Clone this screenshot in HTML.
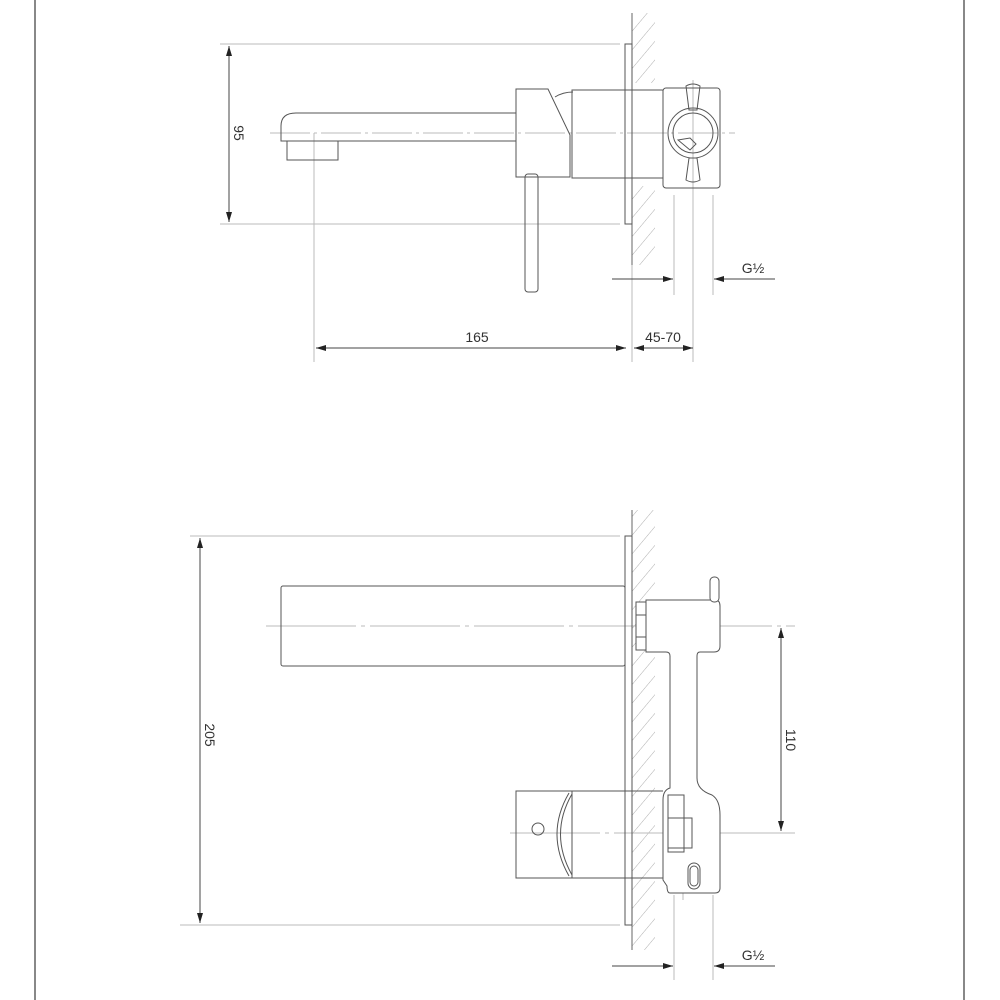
<!DOCTYPE html>
<html><head><meta charset="utf-8"><style>
html,body{margin:0;padding:0;background:#fff;}
svg{display:block;}
text{font-family:"Liberation Sans",sans-serif;font-size:14px;fill:#333;}
</style></head><body>
<svg width="1000" height="1000" viewBox="0 0 1000 1000" xmlns="http://www.w3.org/2000/svg">
<defs>
<marker id="a" viewBox="0 0 10 6" refX="10" refY="3" markerWidth="10" markerHeight="6" orient="auto-start-reverse" markerUnits="userSpaceOnUse"><path d="M0,0L10,3L0,6z" fill="#222"/></marker>
<pattern id="h" width="12" height="12" patternUnits="userSpaceOnUse" patternTransform="rotate(40)"><line x1="0" y1="0" x2="0" y2="12" stroke="#999" stroke-width="0.8"/></pattern>
</defs>
<rect width="1000" height="1000" fill="#fff"/>
<line x1="35" y1="0" x2="35" y2="1000" stroke="#888" stroke-width="2"/>
<line x1="964" y1="0" x2="964" y2="1000" stroke="#888" stroke-width="2"/>

<!-- TOP VIEW -->
<g fill="none" stroke-width="1">
<rect x="632" y="13" width="23" height="70" fill="url(#h)" stroke="none"/>
<rect x="632" y="186" width="23" height="79" fill="url(#h)" stroke="none"/>
<line x1="632" y1="13" x2="632" y2="265" stroke="#666"/>
<g stroke="#bbb">
<line x1="220" y1="44" x2="620" y2="44"/>
<line x1="220" y1="224" x2="620" y2="224"/>
<line x1="314" y1="133" x2="314" y2="362"/>
<line x1="632" y1="265" x2="632" y2="362"/>
<line x1="693" y1="190" x2="693" y2="362"/>
<line x1="674" y1="195" x2="674" y2="295"/>
<line x1="713" y1="195" x2="713" y2="295"/>
<line x1="270" y1="133" x2="735" y2="133" stroke-dasharray="40 4 3 4"/>
<line x1="693" y1="80" x2="693" y2="190"/>
</g>
<g stroke="#444">
<line x1="229" y1="46" x2="229" y2="222" marker-start="url(#a)" marker-end="url(#a)"/>
<line x1="316" y1="348" x2="626" y2="348" marker-start="url(#a)" marker-end="url(#a)"/>
<line x1="634" y1="348" x2="693" y2="348" marker-start="url(#a)" marker-end="url(#a)"/>
<line x1="612" y1="279" x2="673" y2="279" marker-end="url(#a)"/>
<line x1="775" y1="279" x2="714" y2="279" marker-end="url(#a)"/>
</g>
<g stroke="#555">
<rect x="625" y="44" width="7" height="180"/>
<path d="M516,113 H296 Q281,113 281,126 V141 H516"/>
<rect x="287" y="141" width="51" height="19"/>
<path d="M516,89 H548 L570,135 V177 H516 Z"/>
<path d="M555,97 Q563,92 573,92"/>
<rect x="572" y="90" width="60" height="88"/>
<rect x="525" y="174" width="13" height="118" rx="3"/>
<rect x="632" y="90" width="31" height="88"/>
<rect x="663" y="88" width="57" height="100" rx="3"/>
<path d="M686,86 Q693,82 700,86 L697,110 H689 Z"/>
<path d="M689,158 H697 L700,180 Q693,184 686,180 Z"/>
<circle cx="693" cy="133" r="25"/>
<circle cx="693" cy="133" r="20"/>
<path d="M678,140 L690,138 L696,144 L690,150 Z"/>
</g>
</g>
<text x="477" y="342" text-anchor="middle">165</text>
<text x="663" y="342" text-anchor="middle">45-70</text>
<text x="753" y="273" text-anchor="middle">G½</text>
<text transform="translate(234,133) rotate(90)" text-anchor="middle">95</text>

<!-- BOTTOM VIEW -->
<g fill="none" stroke-width="1">
<rect x="632" y="510" width="23" height="440" fill="url(#h)" stroke="none"/>
<line x1="632" y1="510" x2="632" y2="950" stroke="#666"/>
<g stroke="#bbb">
<line x1="190" y1="536" x2="620" y2="536"/>
<line x1="180" y1="925" x2="620" y2="925"/>
<line x1="266" y1="626" x2="795" y2="626" stroke-dasharray="90 5 4 5"/>
<line x1="510" y1="833" x2="795" y2="833" stroke-dasharray="90 5 4 5"/>
<line x1="674" y1="895" x2="674" y2="980"/>
<line x1="713" y1="895" x2="713" y2="980"/>
<line x1="683" y1="640" x2="683" y2="900"/>
</g>
<g stroke="#444">
<line x1="200" y1="538" x2="200" y2="923" marker-start="url(#a)" marker-end="url(#a)"/>
<line x1="781" y1="628" x2="781" y2="831" marker-start="url(#a)" marker-end="url(#a)"/>
<line x1="612" y1="966" x2="673" y2="966" marker-end="url(#a)"/>
<line x1="775" y1="966" x2="714" y2="966" marker-end="url(#a)"/>
</g>
<g stroke="#555">
<rect x="625" y="536" width="7" height="389"/>
<rect x="281" y="586" width="344" height="80" rx="2"/>
<rect x="636" y="602" width="10" height="48" fill="#fff"/>
<line x1="636" y1="615" x2="646" y2="615"/><line x1="636" y1="637" x2="646" y2="637"/>
<path d="M646,600 H715 Q720,600 720,606 V646 Q720,652 714,652 H700 Q697,652 697,656 V778 Q697,790 712,795 Q720,800 720,815 V888 Q720,893 715,893 H670 Q667,893 667,886 L663,880 V800 Q663,790 670,788 L670,656 Q670,652 666,652 H646 Z" fill="#fff"/>
<rect x="710" y="577" width="9" height="25" rx="4" fill="#fff"/>
<rect x="668" y="795" width="16" height="57"/>
<rect x="668" y="818" width="24" height="30"/>
<rect x="688" y="863" width="12" height="26" rx="6"/>
<rect x="690" y="866" width="8" height="20" rx="4"/>
<rect x="516" y="791" width="56" height="87"/>
<path d="M569,793 Q545,834 569,876"/>
<path d="M572,794 Q549,834 572,875"/>
<rect x="572" y="791" width="60" height="87"/>
<circle cx="538" cy="829" r="6"/>
<line x1="632" y1="791" x2="663" y2="791"/>
<line x1="632" y1="878" x2="663" y2="878"/>
</g>
</g>
<text transform="translate(205,735) rotate(90)" text-anchor="middle">205</text>
<text transform="translate(786,740) rotate(90)" text-anchor="middle">110</text>
<text x="753" y="960" text-anchor="middle">G½</text>
</svg>
</body></html>
